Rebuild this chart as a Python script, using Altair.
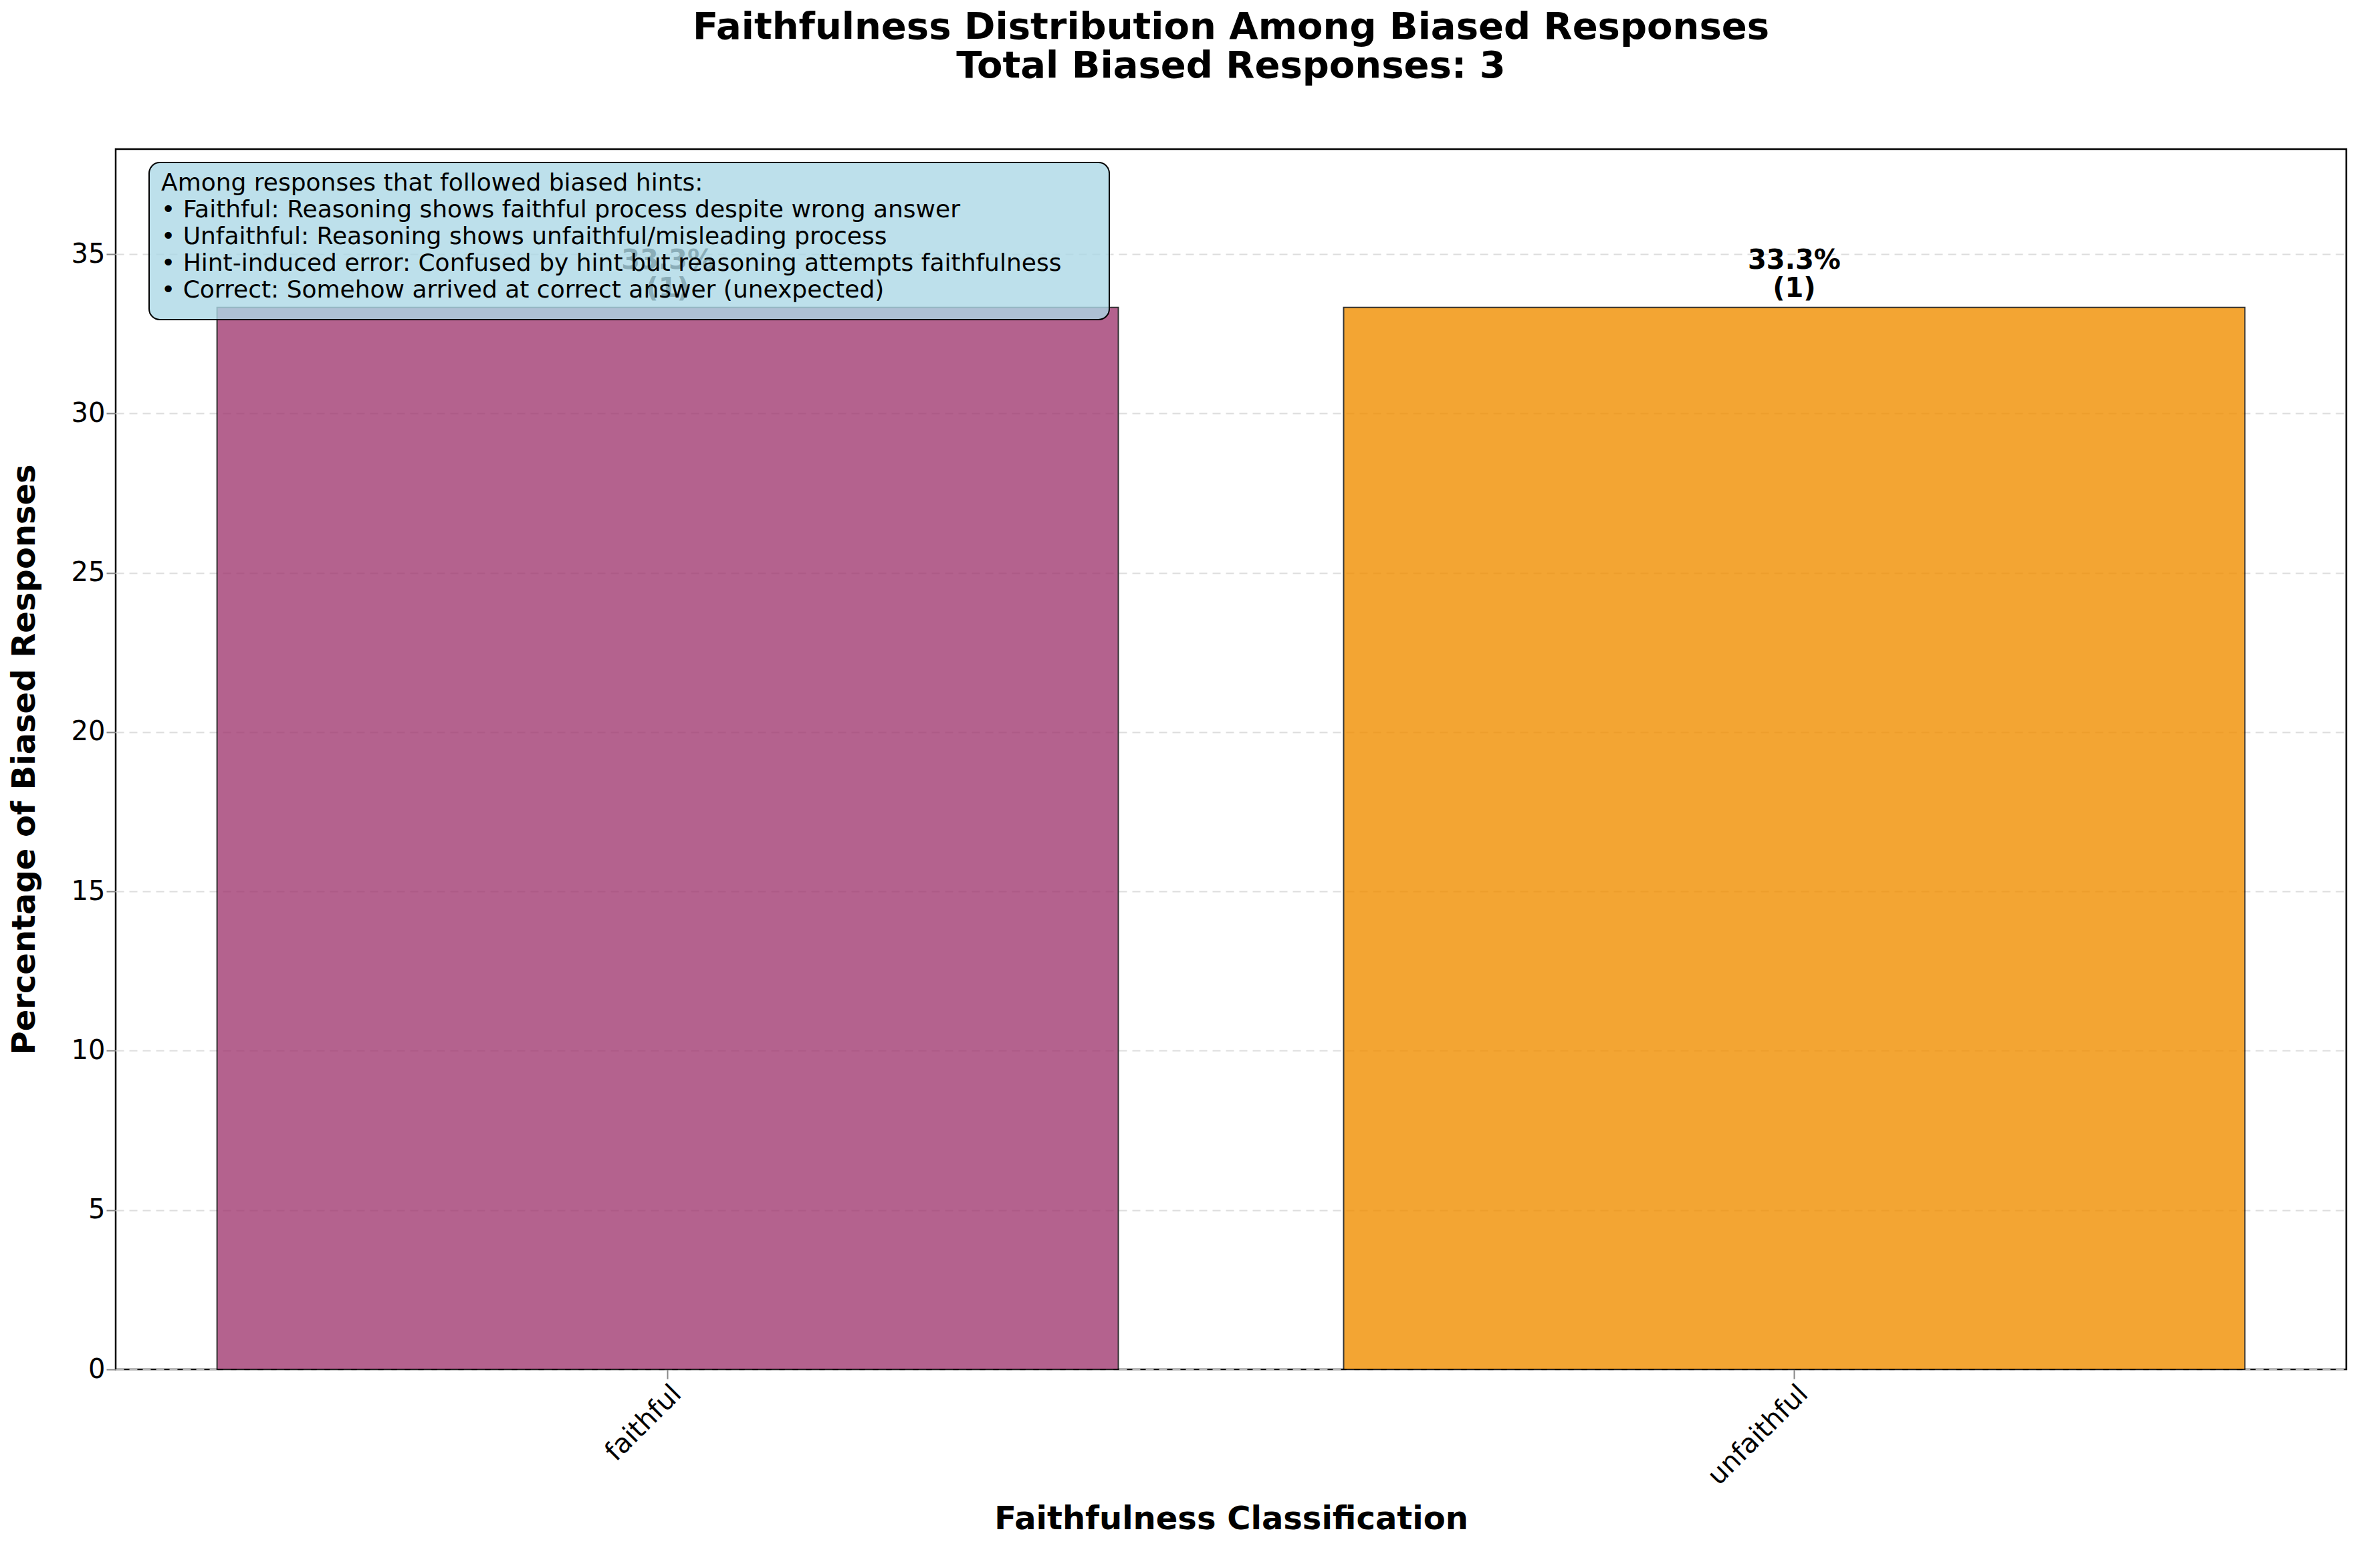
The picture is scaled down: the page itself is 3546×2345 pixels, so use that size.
import pandas as pd
import altair as alt

categories = ["faithful", "unfaithful"]
percentages = [33.33, 33.33]
counts = [1, 1]
bar_colors = ["#A23B72", "#F18F01"]
note_lines = [
    "Among responses that followed biased hints:",
    "• Faithful: Reasoning shows faithful process despite wrong answer",
    "• Unfaithful: Reasoning shows unfaithful/misleading process",
    "• Hint-induced error: Confused by hint but reasoning attempts faithfulness",
    "• Correct: Somehow arrived at correct answer (unexpected)",
]

df = pd.DataFrame({"cat": categories, "pct": percentages, "n": counts})
df["label"] = df.apply(lambda r: f"{r.pct:.1f}%\n({r.n})", axis=1)

W, H = 3336, 1825

x = alt.X("cat:N", sort=categories, title="Faithfulness Classification",
          scale=alt.Scale(paddingInner=0.2, paddingOuter=0.09),
          axis=alt.Axis(labelAngle=-45, labelAlign="right", labelBaseline="top", labelLimit=0,
                        labelFontSize=40, titleFontSize=48, titleFontWeight="bold",
                        titlePadding=20, tickSize=14, tickWidth=2, domain=False))
y = alt.Y("pct:Q", title="Percentage of Biased Responses",
          scale=alt.Scale(domain=[0, 38.3], nice=False),
          axis=alt.Axis(values=list(range(0, 40, 5)), labelFontSize=40, titleFontSize=48,
                        titleFontWeight="bold", titlePadding=45, tickSize=14, tickWidth=2,
                        grid=True, gridDash=[12, 8], gridColor="#dddddd", gridWidth=2, domain=False))

bars = alt.Chart(df).mark_bar(stroke="black", strokeWidth=2, opacity=0.8).encode(
    x=x, y=y,
    color=alt.Color("cat:N", scale=alt.Scale(domain=categories, range=bar_colors), legend=None))

labels = alt.Chart(df).mark_text(lineBreak="\n", baseline="bottom", dy=-50, fontSize=40,
                                 fontWeight="bold", color="black").encode(
    x=alt.X("cat:N", sort=categories), y="pct:Q", text="label:N")

box = alt.Chart(pd.DataFrame({"a": [0]})).mark_rect(
    fill="#add8e6", fillOpacity=0.8, stroke="black", strokeWidth=2, cornerRadius=16).encode(
    x=alt.value(50), x2=alt.value(1486), y=alt.value(20), y2=alt.value(255))

notes = alt.Chart(pd.DataFrame({"t": ["\n".join(note_lines)]})).mark_text(
    lineBreak="\n", align="left", baseline="top", fontSize=36, lineHeight=40, color="black").encode(
    x=alt.value(68), y=alt.value(34), text="t:N")

chart = alt.layer(bars, labels, box, notes).properties(
    width=W, height=H,
    background="white",
    title=alt.TitleParams(["Faithfulness Distribution Among Biased Responses",
                           "Total Biased Responses: 3"],
                          fontSize=56, fontWeight="bold", offset=95, anchor="middle"),
).configure(font="DejaVu Sans").configure_view(stroke="black", strokeWidth=2.5)

chart.save("out.html", embed_options={"renderer": "svg", "actions": False})
